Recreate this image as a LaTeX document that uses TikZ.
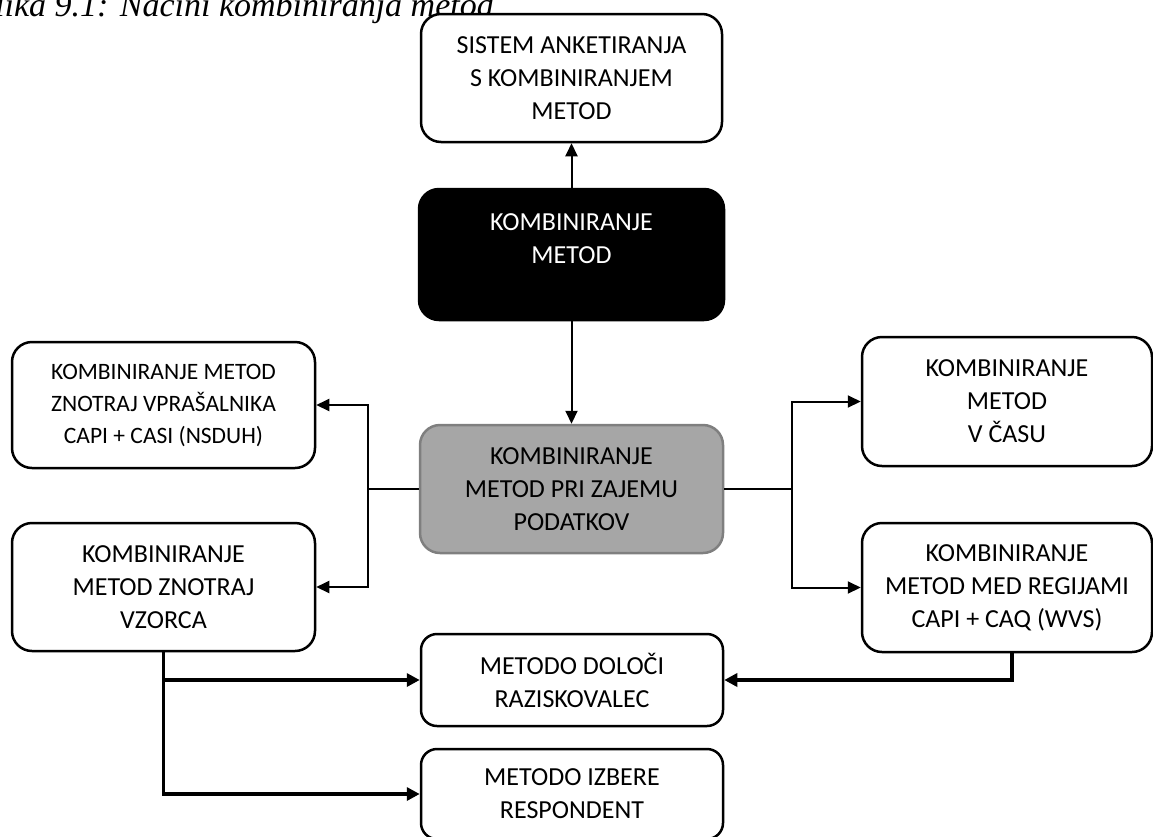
\documentclass[tikz,border=0pt]{standalone}
\usepackage{fontspec}
\setmainfont{Carlito}
\newfontfamily\capfont{Liberation Serif}
\usetikzlibrary{arrows.meta}
\tikzset{
  box/.style={draw=black, line width=2.5pt, rounded corners=20pt, fill=white, inner sep=0pt, align=center,
     font=\fontsize{26}{33}\selectfont},
  smallbox/.style={box, font=\fontsize{23.5}{32}\selectfont},
  conn/.style={line width=2pt, -{Triangle[length=13pt,width=12pt]}},
  thickconn/.style={line width=3.5pt, -{Triangle[length=13pt,width=13pt]}},
  plain/.style={line width=2pt},
}
\begin{document}
\begin{tikzpicture}[x=1pt,y=-1pt]
\useasboundingbox (0,0) rectangle (1153,836);
\clip (0,0) rectangle (1153,836);
\node[anchor=base east, inner sep=0pt, font=\capfont\itshape\fontsize{34}{40}\selectfont] (cap) at (494,16) {Slika 9.1: Načini kombiniranja metod};

\node[box, minimum width=301pt, minimum height=128pt] (top) at (571.5,78) {SISTEM ANKETIRANJA\\S KOMBINIRANJEM\\METOD};
\node[box, fill=black, text=white, minimum width=305pt, minimum height=131pt] (kom) at (571.5,254.5) {KOMBINIRANJE\\METOD\\[-12pt]\strut};
\node[box, draw={rgb,255:red,127;green,127;blue,127}, fill={rgb,255:red,166;green,166;blue,166}, minimum width=303pt, minimum height=128pt] (zajem) at (571.5,489) {KOMBINIRANJE\\METOD PRI ZAJEMU\\PODATKOV};
\node[smallbox, minimum width=303pt, minimum height=126pt] (lt) at (163.5,405) {KOMBINIRANJE METOD\\ZNOTRAJ VPRAŠALNIKA\\CAPI + CASI (NSDUH)};
\node[box, minimum width=303pt, minimum height=128pt] (lb) at (163.5,587) {KOMBINIRANJE\\METOD ZNOTRAJ\\VZORCA};
\node[box, minimum width=290pt, minimum height=129pt] (rt) at (1007,401.5) {KOMBINIRANJE\\METOD\\V ČASU};
\node[box, minimum width=290pt, minimum height=129pt] (rb) at (1007,587.5) {KOMBINIRANJE\\METOD MED REGIJAMI\\CAPI + CAQ (WVS)};
\node[box, rounded corners=16pt, minimum width=302pt, minimum height=92pt] (dol) at (572,680) {METODO DOLOČI\\RAZISKOVALEC};
\node[box, rounded corners=16pt, minimum width=302pt, minimum height=90pt] (izb) at (572,794) {METODO IZBERE\\RESPONDENT};

\draw[conn] (kom.north) -- (top.south);
\draw[conn] (kom.south) -- (zajem.north);

\coordinate (L) at (368,489);
\coordinate (R) at (792,489);
\draw[plain] (zajem.west) -- (L);
\draw[conn] (L) |- (lt.east);
\draw[conn] (L) |- (lb.east);
\draw[plain] (zajem.east) -- (R);
\draw[conn] (R) |- (rt.west);
\draw[conn] (R) |- (rb.west);

\draw[thickconn] (lb.south) |- (dol.west);
\draw[thickconn] (lb.south) |- (izb.west);
\draw[thickconn] ([xshift=5pt]rb.south) |- (dol.east);
\end{tikzpicture}
\end{document}
